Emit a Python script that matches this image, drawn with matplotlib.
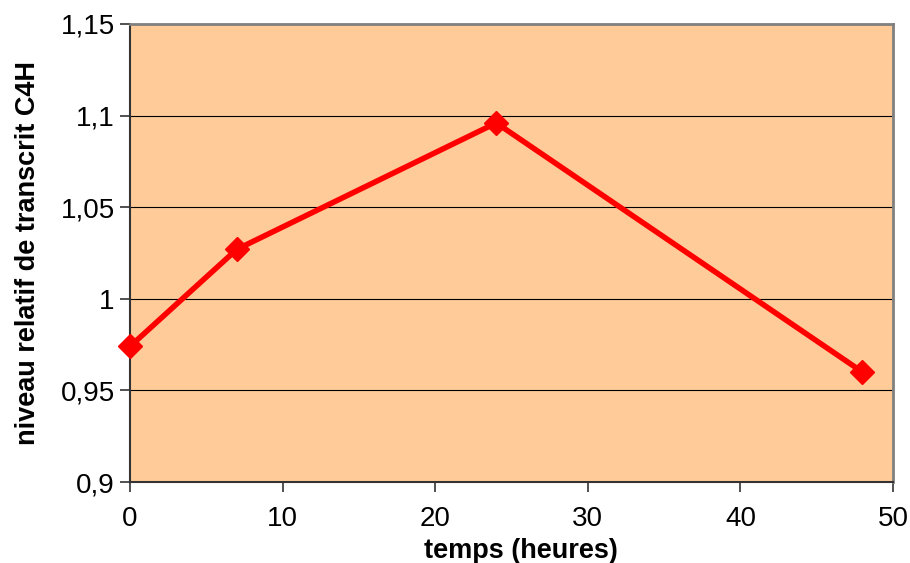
import matplotlib
matplotlib.use("Agg")
import matplotlib.pyplot as plt
from matplotlib.ticker import FuncFormatter

hours = [0, 7, 24, 48]
level = [0.974, 1.027, 1.096, 0.960]
x_ticks = [0, 10, 20, 30, 40, 50]
y_ticks = [0.9, 0.95, 1.0, 1.05, 1.1, 1.15]

plt.rcParams['font.family'] = ['Liberation Sans', 'DejaVu Sans']

fig = plt.figure(figsize=(9.1, 5.63), dpi=100)
L, R, T, B = 130, 893, 24, 482
ax = fig.add_axes([L/910, 1-B/563, (R-L)/910, (B-T)/563])
ax.set_facecolor('#FFCC99')
ax.plot(hours, level, color='#FF0000', lw=4, marker='D', ms=12, zorder=3, clip_on=False)
ax.set_xlim(0, 50)
ax.set_ylim(0.9, 1.15)
ax.set_xticks(x_ticks)
ax.set_yticks(y_ticks)
ax.yaxis.grid(True, color='black', lw=0.8)
ax.set_axisbelow(True)

def fmt(v, pos):
    s = ('%.2f' % v).rstrip('0').rstrip('.')
    return s.replace('.', ',')
ax.yaxis.set_major_formatter(FuncFormatter(fmt))
ax.xaxis.set_major_formatter(FuncFormatter(lambda v, p: '%d' % v))

for s in ['top', 'right']:
    ax.spines[s].set_color('#808080')
    ax.spines[s].set_linewidth(2)
for s in ['left', 'bottom']:
    ax.spines[s].set_color('#333333')
    ax.spines[s].set_linewidth(1.5)
ax.tick_params(direction='out', length=7, width=1.2, color='#333333', labelsize=20, pad=4)
ax.tick_params(axis='x', pad=10)

ax.set_xlabel('temps (heures)', fontsize=19.5, fontweight='bold', va='center')
ax.xaxis.set_label_coords((521-L)/(R-L), -(551-B)/(B-T))
ax.set_ylabel('niveau relatif de transcrit C4H', fontsize=19.5, fontweight='bold', va='center')
ax.yaxis.set_label_coords(-(L-28)/(R-L), (B-253)/(B-T))

fig.savefig('out.png', dpi=100, facecolor='white')
